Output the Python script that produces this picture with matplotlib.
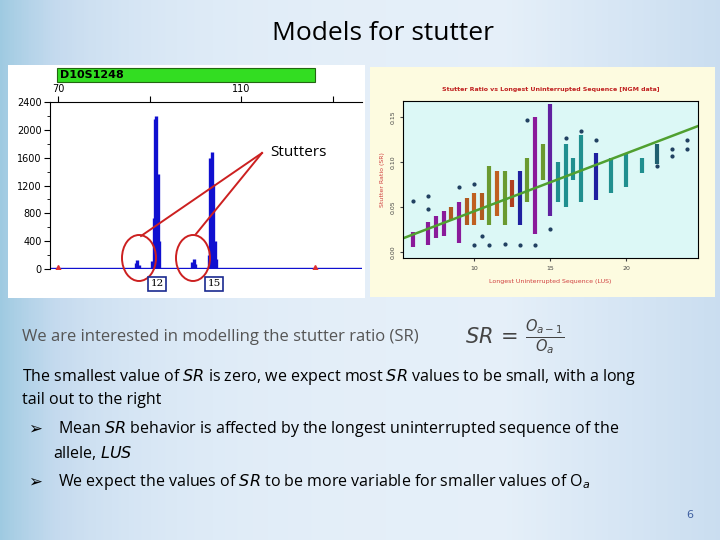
import numpy as np
import matplotlib.pyplot as plt
from matplotlib.patches import Ellipse, Rectangle
from matplotlib.lines import Line2D

# electropherogram bars (bp, rfu)
peak_bp = [87.0, 87.3, 87.6, 90.6, 90.9, 91.2, 91.5, 91.8, 92.1,
           99.3, 99.6, 99.9, 103.0, 103.3, 103.6, 103.9, 104.2, 104.5]
peak_rfu = [90, 130, 60, 120, 740, 2160, 2200, 1360, 400,
            100, 140, 70, 200, 1600, 1680, 1220, 400, 150]

# scatter columns: LUS, SR low, SR high, colour
lus = [6, 7, 7.5, 8, 8.5, 9, 9.5, 10, 10.5, 11, 11.5, 12, 12.5, 13, 13.5, 14, 14.5, 15, 15.5, 16, 16.5, 17, 18, 19, 20, 21, 22]
sr_lo = [0.005, 0.007, 0.015, 0.018, 0.035, 0.01, 0.03, 0.03, 0.035, 0.03, 0.04, 0.03, 0.05, 0.03, 0.055, 0.02, 0.08, 0.04, 0.055, 0.05, 0.08, 0.055, 0.058, 0.065, 0.072, 0.088, 0.098]
sr_hi = [0.022, 0.033, 0.04, 0.045, 0.05, 0.055, 0.06, 0.065, 0.065, 0.095, 0.09, 0.09, 0.08, 0.09, 0.105, 0.15, 0.12, 0.165, 0.1, 0.12, 0.105, 0.13, 0.11, 0.105, 0.11, 0.105, 0.12]
col_c = ['#8a1a9a', '#8a1a9a', '#8a1a9a', '#8a1a9a', '#b05a20', '#8a1a9a', '#b05a20', '#c06020', '#b05a20', '#6a9a30',
         '#c06020', '#6a9a30', '#b04020', '#2020a0', '#6a9a30', '#8a1a9a', '#6a9a30', '#6020a0', '#208f8f', '#208f8f',
         '#208f8f', '#208f8f', '#2020a0', '#208f8f', '#208f8f', '#208f8f', '#206070']
out_x = [6, 7, 7, 9, 10, 10, 10.5, 11, 12, 13, 13.5, 14, 15, 16, 17, 18, 22, 23, 23, 24, 24]
out_y = [0.057, 0.048, 0.062, 0.072, 0.007, 0.075, 0.018, 0.007, 0.009, 0.007, 0.147, 0.008, 0.025, 0.127, 0.135, 0.125, 0.095, 0.115, 0.107, 0.125, 0.115]
fit = [0.00646, -0.0195]

fig = plt.figure(figsize=(7.2, 5.4), dpi=100)

# background gradient: blue at the left edge, pale in the middle
bg = fig.add_axes([0, 0, 1, 1])
gx = np.linspace(0, 1, 300)
shade = 1 - np.exp(-gx / 0.15) * 0.5 - np.clip((gx - 0.7) / 0.3, 0, 1) * 0.25
grad = np.tile(shade, (50, 1))
bg.imshow(grad, extent=[0, 1, 0, 1], aspect='auto', cmap='Blues_r', vmin=-0.6, vmax=1.15)
bg.set_xlim(0, 1)
bg.set_ylim(0, 1)
bg.axis('off')

W, H = 720, 540
def box(x0, y0, x1, y1):
    return [x0 / W, 1 - y1 / H, (x1 - x0) / W, (y1 - y0) / H]

fig.text(383 / W, 1 - 33 / H, 'Models for stutter', ha='center', va='center', fontsize=19, family='Open Sans')

# left panel
lp = fig.add_axes(box(8, 65, 365, 298))
lp.set_facecolor('white')
lp.set_xticks([]); lp.set_yticks([])
for s in lp.spines.values():
    s.set_visible(False)
fig.patches.append(Rectangle((57 / W, 1 - 82 / H), 258 / W, 14 / H, transform=fig.transFigure,
                             facecolor='#33dd22', edgecolor='#226611', lw=0.8))
fig.text(60 / W, 1 - 75 / H, 'D10S1248', fontsize=8, weight='bold', va='center')

ax = fig.add_axes(box(50, 102, 362, 269))
ax.set_facecolor('white')
ax.set_xlim(68.25, 136.4)
ax.set_ylim(0, 2400)
ax.vlines(peak_bp, 0, peak_rfu, color='#1010d0', lw=2.4)
ax.axhline(8, color='#1010d0', lw=1)
ax.plot([70, 126.2], [20, 20], '^', color='#e03030', ms=5)
ax.set_yticks([0, 400, 800, 1200, 1600, 2000, 2400])
ax.set_yticks(np.arange(0, 2400, 200), minor=True)
ax.tick_params(labelsize=7, length=4, pad=2)
ax.xaxis.tick_top()
ax.set_xticks([70, 90, 110, 130])
ax.set_xticklabels(['70', '', '110', ''])
for s in ['right', 'bottom']:
    ax.spines[s].set_visible(False)

for cx in [139, 193]:
    fig.patches.append(Ellipse((cx / W, 1 - 258 / H), 34 / W, 46 / H, transform=fig.transFigure,
                               fill=False, edgecolor='#cc2020', lw=1.4))
for tx, lab in [(157, '12'), (214, '15')]:
    fig.text(tx / W, 1 - 284 / H, lab, ha='center', va='center', fontsize=7.5, family='serif',
             bbox=dict(facecolor='white', edgecolor='#1a2a90', lw=1.2, pad=1.5))
for ex, ey in [(141, 236), (196, 234)]:
    fig.lines.append(Line2D([262 / W, ex / W], [1 - 153 / H, 1 - ey / H], transform=fig.transFigure,
                            color='#cc2020', lw=1.4))
fig.text(270 / W, 1 - 153 / H, 'Stutters', fontsize=11, va='center', family='Open Sans')

# right panel
rp = fig.add_axes(box(370, 67, 715, 297))
rp.set_facecolor('#fdfbe0')
rp.set_xticks([]); rp.set_yticks([])
for s in rp.spines.values():
    s.set_visible(False)

sx = fig.add_axes(box(403, 101, 698, 258))
sx.set_facecolor('#dcf8f6')
sx.set_xlim(5.33, 24.7)
sx.set_ylim(-0.007, 0.168)
sx.vlines(lus, sr_lo, sr_hi, colors=col_c, lw=3)
sx.scatter(out_x, out_y, s=4, color='#204060')
xx = np.array([5.33, 24.7])
sx.plot(xx, fit[0] * xx + fit[1], color='#50a030', lw=1.8)
sx.set_xticks([10, 15, 20])
sx.set_yticks([0.0, 0.05, 0.10, 0.15])
sx.set_yticklabels(['0.00', '0.05', '0.10', '0.15'], rotation=90, va='center')
sx.tick_params(labelsize=4.5, length=2, colors='#444444')
sx.set_xlabel('Longest Uninterrupted Sequence (LUS)', fontsize=4.5, color='#d04040', labelpad=6)
sx.set_ylabel('Stutter Ratio (SR)', fontsize=4.5, color='#d04040')
sx.set_title('Stutter Ratio vs Longest Uninterrupted Sequence [NGM data]', fontsize=4.5,
             color='#c02020', weight='bold', pad=7)

# text
fig.text(22 / W, 1 - 337 / H, 'We are interested in modelling the stutter ratio (SR)', fontsize=12,
         color='#555555', va='center', family='Open Sans')
fig.text(465 / W, 1 - 337 / H, r'$SR\,=\,\frac{O_{a-1}}{O_a}$', fontsize=15, color='#444444', va='center')
lines = [(22, 377, 'The smallest value of $\\it{SR}$ is zero, we expect most $\\it{SR}$ values to be small, with a long'),
         (22, 400, 'tail out to the right'),
         (58, 429, 'Mean $\\it{SR}$ behavior is affected by the longest uninterrupted sequence of the'),
         (53, 453, 'allele, $\\it{LUS}$'),
         (58, 482, 'We expect the values of $\\it{SR}$ to be more variable for smaller values of O$_a$')]
for x, y, t in lines:
    fig.text(x / W, 1 - y / H, t, fontsize=11.5, va='center', family='Open Sans')
for y in [429, 482]:
    fig.text(28 / W, 1 - y / H, '\u27a2', fontsize=12, va='center', family='DejaVu Sans')
fig.text(690 / W, 1 - 515 / H, '6', fontsize=8, color='#4060a0', ha='center', va='center')

fig.savefig('out.png', dpi=100)
